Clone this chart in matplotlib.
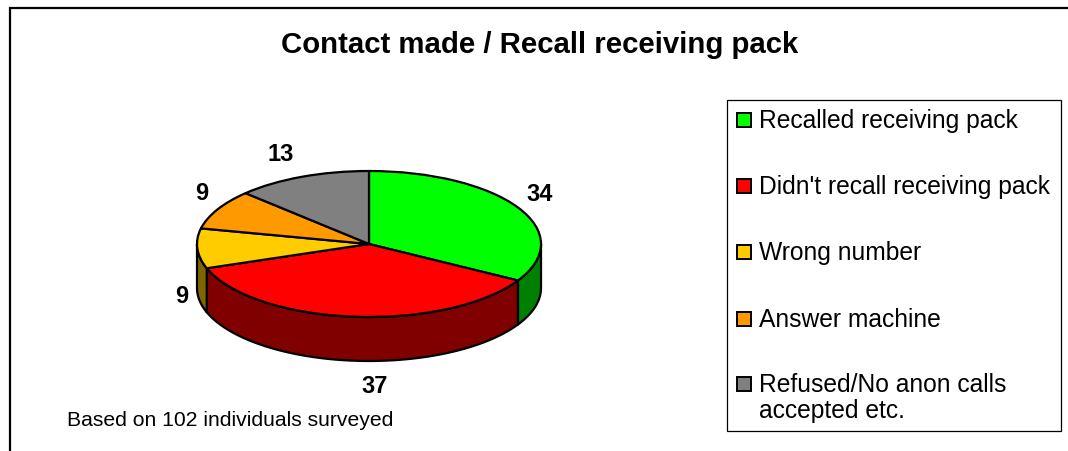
import numpy as np
import matplotlib
matplotlib.use("Agg")
import matplotlib.pyplot as plt
from matplotlib.patches import Wedge, Polygon, Rectangle
from matplotlib.transforms import Affine2D

plt.rcParams['font.family'] = ['Liberation Sans', 'DejaVu Sans']

# ---- data ----
categories = ["Recalled receiving pack", "Didn't recall receiving pack",
              "Wrong number", "Answer machine",
              "Refused/No anon calls\naccepted etc."]
values = [34, 37, 9, 9, 13]
top_colors = ["#00FF00", "#FF0000", "#FFCC00", "#FF9900", "#808080"]
side_colors = ["#008000", "#800000", "#806600", "#804C00", "#404040"]
title = "Contact made / Recall receiving pack"
footnote = "Based on 102 individuals surveyed"

# ---- layout (pixel-like coordinates) ----
W, H = 1068, 452
fig = plt.figure(figsize=(W / 100, H / 100), dpi=100)
ax = fig.add_axes([0, 0, 1, 1])
ax.set_xlim(0, W)
ax.set_ylim(H, 0)
ax.axis('off')

cx, cy, rx, ry, depth = 369, 245, 172, 73, 44
tr = Affine2D().scale(rx, -ry).translate(cx, cy) + ax.transData

total = sum(values)
cum = np.concatenate([[0], np.cumsum(values)])
starts = 90 - 360 * cum[:-1] / total
ends = 90 - 360 * cum[1:] / total

def rim(a_from, a_to, n=60, dy=0.0):
    t = np.radians(np.linspace(a_from, a_to, n))
    return np.column_stack([cx + rx * np.cos(t), cy - ry * np.sin(t) + dy])

# side walls (front half only: angles in [-180, 0])
for a0, a1, sc in zip(starts, ends, side_colors):
    for lo_b, hi_b in [(-180, 0), (-540, -360)]:
        lo, hi = max(a1, lo_b), min(a0, hi_b)
        if hi > lo:
            top = rim(hi, lo)
            bot = rim(lo, hi, dy=depth)
            ax.add_patch(Polygon(np.vstack([top, bot]), closed=True,
                                 facecolor=sc, edgecolor='black', lw=1.6,
                                 joinstyle='round'))

# top faces
for a0, a1, c in zip(starts, ends, top_colors):
    ax.add_patch(Wedge((0, 0), 1, a1, a0, facecolor=c, edgecolor='black',
                       lw=1.6, transform=tr, joinstyle='round'))

# value labels (text positions)
label_xy = [(540, 195), (375, 387), (182, 297), (202, 194), (281, 155)]
for v, (lx, ly) in zip(values, label_xy):
    ax.text(lx, ly, str(v), fontsize=17, fontweight='bold',
            ha='center', va='center')

# title & footnote
ax.text(540, 45, title, fontsize=21.2, fontweight='bold', ha='center', va='center')
ax.text(67, 421, footnote, fontsize=15.2, ha='left', va='center')

# outer frame (partial, as in the reference crop)
ax.plot([10, 10, W + 5], [H + 5, 9, 9], color='black', lw=1.6,
        solid_joinstyle='miter')

# legend
ax.add_patch(Rectangle((727, 101), 334, 331, facecolor='white',
                       edgecolor='black', lw=0.9))
row_y = [121, 187, 253, 320, 385]
for lab, c, yy in zip(categories, top_colors, row_y):
    ax.add_patch(Rectangle((736.5, yy - 7), 14, 14, facecolor=c,
                           edgecolor='black', lw=1.4))
    for k, line in enumerate(lab.split('\n')):
        ax.text(759, yy + k * 26, line, fontsize=17.7, ha='left', va='center')

fig.savefig("out.png", dpi=100)
